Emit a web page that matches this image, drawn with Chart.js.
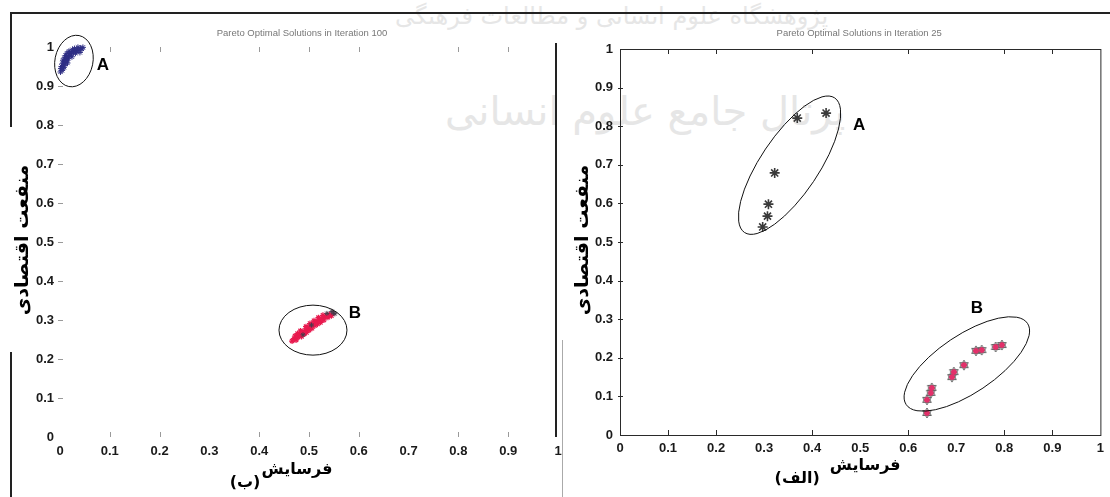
<!DOCTYPE html>
<html>
<head>
<meta charset="utf-8">
<script src="https://cdn.jsdelivr.net/npm/chart.js@4.4.1/dist/chart.umd.min.js"></script>
<style>
  html, body { margin: 0; padding: 0; background: #fff; }
  #page { position: relative; width: 1110px; height: 497px; overflow: hidden; background: #fff; }
  #page canvas { position: absolute; left: 0; top: 0; }
  .wm { position: absolute; font-family: "DejaVu Sans"; color: #e6e6e6; white-space: nowrap; direction: rtl; }
  .rule { position: absolute; background: #222; }
</style>
</head>
<body>
<div id="page">
  <!-- faint watermark of the scanned page -->
  <div class="wm" style="left:395px;top:2px;font-size:24px;">پژوهشگاه علوم انسانی و مطالعات فرهنگی</div>
  <div class="wm" style="left:445px;top:88px;font-size:40px;">پرتال جامع علوم انسانی</div>
  <!-- page frame -->
  <div class="rule" style="left:10px;top:12px;width:1100px;height:2px"></div>
  <div class="rule" style="left:10px;top:12px;width:2px;height:115px"></div>
  <div class="rule" style="left:10px;top:352px;width:2px;height:145px"></div>
  <div class="rule" style="left:562px;top:340px;width:1px;height:157px;background:#aaa"></div>
  <canvas id="left" width="1110" height="497"></canvas>
  <canvas id="right" width="1110" height="497"></canvas>
</div>
<script>
// ---------- data ----------
const TICK_VALUES = [0, 0.1, 0.2, 0.3, 0.4, 0.5, 0.6, 0.7, 0.8, 0.9, 1];
const TICK_LABELS = ['0', '0.1', '0.2', '0.3', '0.4', '0.5', '0.6', '0.7', '0.8', '0.9', '1'];
const LEFT_TICK_MARKS  = [0.1, 0.2, 0.4, 0.5, 0.6, 0.8, 0.9];
const RIGHT_TICK_MARKS = [0.1, 0.2, 0.4, 0.6, 0.8, 0.9];

const TITLE_LEFT  = 'Pareto Optimal Solutions in Iteration 100';
const TITLE_RIGHT = 'Pareto Optimal Solutions in Iteration 25';
const X_TITLE = 'فرسایش';
const Y_TITLE = 'منفعت اقتصادی';
const TAG_LEFT  = '(ب)';
const TAG_RIGHT = '(الف)';

// iteration 100 (panel ب)
const ITER100_A = [
  [0.001,0.936],[0.004,0.940],[0.002,0.945],[0.006,0.944],[0.003,0.950],[0.007,0.952],
  [0.005,0.957],[0.010,0.956],[0.008,0.962],[0.012,0.961],[0.006,0.966],[0.011,0.967],
  [0.014,0.966],[0.009,0.972],[0.013,0.973],[0.017,0.971],[0.011,0.978],[0.016,0.978],
  [0.020,0.977],[0.014,0.984],[0.019,0.983],[0.023,0.982],[0.018,0.989],[0.022,0.988],
  [0.027,0.987],[0.025,0.993],[0.030,0.991],[0.033,0.989],[0.029,0.996],[0.034,0.995],
  [0.038,0.992],[0.036,0.999],[0.041,0.997],[0.044,0.995],[0.046,0.999],[0.040,0.986],
  [0.031,0.984],[0.024,0.975],[0.015,0.959],[0.008,0.948]
];
const ITER100_B = [
  [0.466,0.246],[0.470,0.252],[0.474,0.249],[0.472,0.259],[0.478,0.256],[0.481,0.262],
  [0.477,0.265],[0.485,0.258],[0.486,0.268],[0.490,0.264],[0.483,0.272],[0.492,0.273],
  [0.495,0.268],[0.497,0.279],[0.500,0.274],[0.494,0.283],[0.503,0.283],[0.506,0.279],
  [0.508,0.289],[0.502,0.291],[0.512,0.286],[0.514,0.295],[0.517,0.290],[0.510,0.298],
  [0.520,0.298],[0.523,0.294],[0.526,0.303],[0.519,0.306],[0.530,0.300],[0.533,0.309],
  [0.528,0.312],[0.538,0.307],[0.541,0.314],[0.545,0.311]
];
const ITER100_B_DARK = [
  [0.536,0.317],[0.549,0.318],[0.546,0.322],[0.552,0.316],[0.488,0.262],[0.505,0.287]
];

// iteration 25 (panel الف)
const ITER25_A = [
  [0.429,0.834],[0.369,0.821],[0.322,0.679],[0.309,0.598],[0.307,0.567],[0.297,0.539]
];
const ITER25_B = [
  [0.795,0.233],[0.782,0.228],[0.753,0.220],[0.741,0.218],[0.716,0.181],[0.695,0.163],
  [0.691,0.150],[0.649,0.122],[0.647,0.109],[0.639,0.091],[0.639,0.057]
];

// ---------- helpers ----------
const TICK_FONT = { family: 'Liberation Sans', size: 13, weight: 'bold' };

function hexagram(size, stroke) {
  const c = document.createElement('canvas');
  c.width = c.height = size;
  const g = c.getContext('2d');
  const m = size / 2, r = size / 2 - 1;
  g.strokeStyle = stroke;
  g.lineWidth = 1;
  [-Math.PI / 2, Math.PI / 2].forEach(a0 => {
    g.beginPath();
    for (let k = 0; k < 3; k++) {
      const a = a0 + k * 2 * Math.PI / 3;
      const px = m + r * Math.cos(a), py = m + r * Math.sin(a);
      k ? g.lineTo(px, py) : g.moveTo(px, py);
    }
    g.closePath();
    g.stroke();
  });
  return c;
}

function line(ctx, x1, y1, x2, y2) {
  ctx.beginPath(); ctx.moveTo(x1, y1); ctx.lineTo(x2, y2); ctx.stroke();
}

// frames, ticks, ellipses, letters, titles
const decor = {
  id: 'decor',
  afterDatasetsDraw(chart, args, o) {
    const { ctx, chartArea: a, scales: { x, y } } = chart;
    ctx.save();

    if (o.box) {
      ctx.strokeStyle = '#2a2a2a';
      ctx.lineWidth = 1;
      ctx.strokeRect(a.left + 0.5, a.top + 0.5, a.right - a.left, a.bottom - a.top);
    }
    if (o.rightEdge) {
      ctx.strokeStyle = '#222';
      ctx.lineWidth = 2;
      line(ctx, a.right - 2, a.top - 4, a.right - 2, a.bottom);
    }

    // inward tick marks
    ctx.strokeStyle = o.tickColor;
    ctx.lineWidth = 1;
    o.xMarks.forEach(v => {
      const px = Math.round(x.getPixelForValue(v)) + 0.5;
      line(ctx, px, a.top, px, a.top + 5);
      line(ctx, px, a.bottom, px, a.bottom - 5);
    });
    TICK_VALUES.slice(1, -1).forEach(v => {
      const py = Math.round(y.getPixelForValue(v)) + 0.5;
      line(ctx, a.left - 2, py, a.left + 3, py);
    });

    // cluster ellipses and letters
    o.groups.forEach(g => {
      ctx.strokeStyle = '#111';
      ctx.lineWidth = 1;
      ctx.beginPath();
      ctx.ellipse(x.getPixelForValue(g.cx), y.getPixelForValue(g.cy), g.rx, g.ry, g.rot, 0, Math.PI * 2);
      ctx.stroke();
      ctx.fillStyle = '#000';
      ctx.font = 'bold 17px "Liberation Sans"';
      ctx.textAlign = 'center';
      ctx.textBaseline = 'middle';
      ctx.fillText(g.name, x.getPixelForValue(g.lx), y.getPixelForValue(g.ly));
    });

    const cx = (a.left + a.right) / 2;

    // panel title
    ctx.fillStyle = '#777';
    ctx.font = '9.5px "Liberation Sans"';
    ctx.textAlign = 'center';
    ctx.textBaseline = 'middle';
    ctx.fillText(o.title, cx + o.titleDx, 33);

    // axis titles
    ctx.fillStyle = '#000';
    ctx.direction = 'rtl';
    ctx.font = 'bold 16px "DejaVu Sans"';
    ctx.fillText(X_TITLE, cx + o.xTitleDx, o.xTitleY);
    ctx.fillText(o.tag, cx + o.tagDx, o.xTitleY + 13);

    ctx.font = 'bold 19px "DejaVu Sans"';
    ctx.translate(o.yTitleX, 240);
    ctx.rotate(-Math.PI / 2);
    ctx.fillText(Y_TITLE, 0, 0);

    ctx.restore();
  }
};

function panel(id, cfg) {
  return new Chart(document.getElementById(id), {
    type: 'scatter',
    data: { datasets: cfg.datasets },
    options: {
      responsive: false,
      animation: false,
      events: [],
      layout: { padding: cfg.padding },
      plugins: {
        legend: { display: false },
        tooltip: { enabled: false },
        decor: cfg.decor
      },
      scales: {
        x: {
          type: 'linear', min: 0, max: 1,
          border: { display: false },
          grid: { display: false, drawTicks: false },
          afterBuildTicks: s => { s.ticks = TICK_VALUES.map(v => ({ value: v })); },
          afterFit: s => { s.height = 30; },
          ticks: {
            padding: cfg.xPad, font: TICK_FONT, color: '#1a1a1a',
            maxRotation: 0, autoSkip: false,
            callback: v => TICK_LABELS[Math.round(v * 10)]
          }
        },
        y: {
          type: 'linear', min: 0, max: 1,
          border: { display: false },
          grid: { display: false, drawTicks: false },
          afterBuildTicks: s => { s.ticks = TICK_VALUES.map(v => ({ value: v })); },
          afterFit: s => { s.width = 50; },
          ticks: {
            padding: cfg.yPad, font: TICK_FONT, color: '#1a1a1a',
            autoSkip: false,
            callback: v => TICK_LABELS[Math.round(v * 10)]
          }
        }
      }
    },
    plugins: [decor]
  });
}

const star = (data, color, r, w) => ({
  data, pointStyle: 'star', pointRadius: r, borderColor: color,
  backgroundColor: color, pointBorderWidth: w, clip: false
});

// panel ب : iteration 100
panel('left', {
  padding: { left: 10, right: 552, top: 47, bottom: 30 },
  xPad: 7, yPad: 6,
  datasets: [
    star(ITER100_B_DARK, '#4a3a4a', 2.5, 1),
    star(ITER100_A, '#2f2f85', 3, 1),
    star(ITER100_B, '#e8194e', 3, 1.2)
  ],
  decor: {
    box: false, rightEdge: true, tickColor: '#9a9a9a', xMarks: LEFT_TICK_MARKS,
    title: TITLE_LEFT, titleDx: -7, xTitleDx: -12, xTitleY: 470, tag: TAG_LEFT, tagDx: -64, yTitleX: 23,
    groups: [
      { name: 'A', cx: 0.028, cy: 0.964, rx: 19, ry: 26, rot: 0.2, lx: 0.086, ly: 0.954 },
      { name: 'B', cx: 0.508, cy: 0.274, rx: 34, ry: 25, rot: 0, lx: 0.592, ly: 0.318 }
    ]
  }
});

// panel الف : iteration 25
panel('right', {
  padding: { left: 570, right: 8, top: 49, bottom: 32 },
  xPad: 6, yPad: 7,
  datasets: [
    star(ITER25_B, '#e3306a', 3, 1.6),
    { data: ITER25_B, pointStyle: hexagram(12, '#666'), pointRadius: 6, clip: false },
    star(ITER25_A, '#3a3a3a', 5, 1.6)
  ],
  decor: {
    box: true, rightEdge: false, tickColor: '#2a2a2a', xMarks: RIGHT_TICK_MARKS,
    title: TITLE_RIGHT, titleDx: -1, xTitleDx: 5, xTitleY: 466, tag: TAG_RIGHT, tagDx: -63, yTitleX: 583,
    groups: [
      { name: 'A', cx: 0.353, cy: 0.699, rx: 81, ry: 29, rot: -0.98, lx: 0.498, ly: 0.803 },
      { name: 'B', cx: 0.722, cy: 0.184, rx: 73, ry: 29, rot: -0.59, lx: 0.743, ly: 0.329 }
    ]
  }
});
</script>
</body>
</html>
